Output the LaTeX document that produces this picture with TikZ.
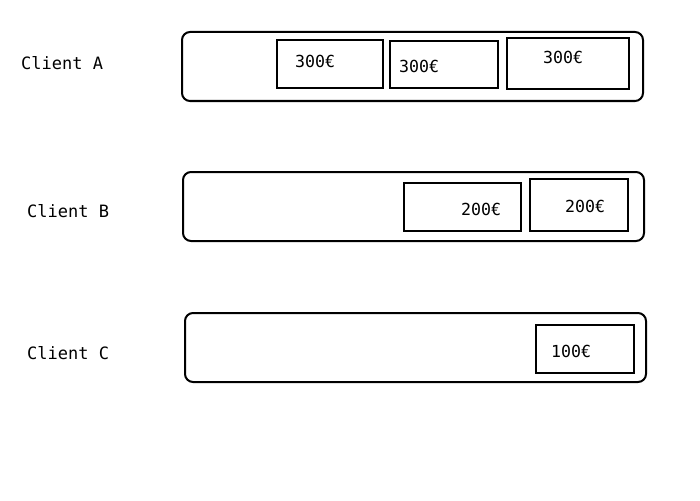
\documentclass[tikz,border=0pt]{standalone}
\usepackage{fontspec}
\setmonofont{DejaVu Sans Mono}
\begin{document}
\begin{tikzpicture}[x=1pt,y=-1pt,
  lane/.style={draw,line width=2pt,rounded corners=8pt,minimum width=#1,minimum height=69pt,anchor=north west,inner sep=0},
  lane/.default=461pt,
  pay/.style={draw,line width=2pt,anchor=north west,inner sep=0},
  lbl/.style={anchor=west,inner sep=0,font=\ttfamily\fontsize{17}{19}\selectfont},
  amt/.style={anchor=west,inner sep=0,font=\ttfamily\fontsize{16.6}{18}\selectfont}]
\useasboundingbox (0,0) rectangle (700,500);
% Client A
\node[lbl] (la) at (21,63) {Client A};
\node[lane] (ra) at (181,31) {};
\node[pay,minimum width=106pt,minimum height=48pt] (a1) at (276,39) {};
\node[pay,minimum width=108pt,minimum height=47pt] (a2) at (389,40) {};
\node[pay,minimum width=122pt,minimum height=51pt] (a3) at (506,37) {};
\node[amt] (ta1) at (295,61) {300€};
\node[amt] (ta2) at (399,66) {300€};
\node[amt] (ta3) at (543,57) {300€};
% Client B
\node[lbl] (lb) at (27,211) {Client B};
\node[lane] (rb) at (182,171) {};
\node[pay,minimum width=117pt,minimum height=48pt] (b1) at (403,182) {};
\node[pay,minimum width=98pt,minimum height=52pt] (b2) at (529,178) {};
\node[amt] (tb1) at (461,209) {200€};
\node[amt] (tb2) at (565,206) {200€};
% Client C
\node[lbl] (lc) at (27,353) {Client C};
\node[lane] (rc) at (184,312) {};
\node[pay,minimum width=98pt,minimum height=48pt] (c1) at (535,324) {};
\node[amt] (tc1) at (551,351) {100€};
\end{tikzpicture}
\end{document}
